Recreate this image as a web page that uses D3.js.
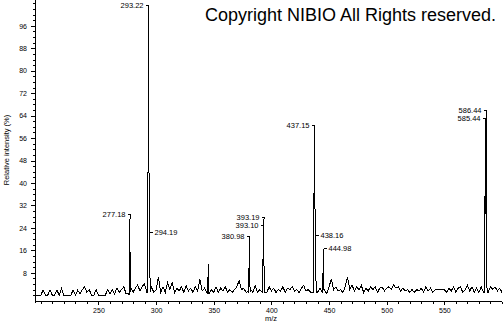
<!DOCTYPE html>
<meta charset="utf-8">
<script src="https://d3js.org/d3.v7.min.js"></script>
<style>
body { margin: 0; background: #fff; }
svg text { font-family: "Liberation Sans", Arial, sans-serif; fill: #000; }
.axis path, .axis line { stroke: #000; shape-rendering: crispEdges; }
</style>
<div id="chart"></div>
<script>
  // baseline noise, read every 2 m/z from 196 to 600 (% intensity)
  var noiseStart = 196, noiseStep = 2;
  var noise = [
    0,0,0,1.8,0,0,1.8,0,0,1.8, 0,2.4,0,0,0,0,1.8,0,1.8,0.5,
    2,3,1,2,0,0,2,0,0,0, 0,2,0.5,2,0.5,2.5,1,2,3,0.5,
    0.5,2.8,1,2.5,3.6,1.5,3.2,4,
    1,2,3,1,2,
    6.4,1,3,1,4.5,2,4.5,1,2.5,1.5,3,1,3.5,1.5,2.5,1,3,1.5,
    5.7,1.5,2.5,1,0.5,2,1,3,1,2.5, 1.5,3,1,2,1,2,3,5.2,2,2.5,
    1,1.5,2,1,3.5,1,2,1,2,1, 3,1.5,2.5,1,2,1.5,3,1,2.5,2,
    3,1.5,2,1,2.5,3.5,1.5,2,1,1, 2,1,2.5,1,2,0.5,3,5.8,2,3,
    1.5,2,1,3,6.4,2,3.5,1.5,3,2, 3.5,1,2.5,1.5,3,2,3,1,2.5,3,
    1.5,2.5,3,2,3.6,2.5,3,1.5,2.5,1.5, 2,1,2,1,2,1.5,2.5,1,3,1.5,
    2.5,1,2,2,2,2,2,1,2.5,1.5, 3,1,2.5,3,1,2,3.5,1.5,3,1,
    2.5,1,3,1,2,1,3,2,3,1.5, 2.5,1
  ];

  // peak profiles [m/z, % intensity]
  var peaks = [
    [[276.6,0],[276.9,13.5],[277.18,27],[277.5,7],[277.9,1]],
    [[292.5,1],[292.85,8],[293.22,100],[293.6,59.5],[294.19,21.5],[294.6,8],[295.1,1]],
    [[344.8,0.5],[345.2,11],[345.6,1]],
    [[380.4,0.8],[380.6,10.5],[380.98,20],[381.4,3],[381.8,1]],
    [[392.4,1],[392.7,12],[393.10,24],[393.19,27],[393.6,10],[394.1,1]],
    [[436.4,1],[436.8,16],[437.15,59],[437.6,38],[438.16,20],[438.6,6],[439.1,1]],
    [[444.6,1],[444.98,16],[445.4,2]],
    [[584.9,1],[585.1,8],[585.44,61],[585.9,29],[586.44,30],[586.8,4],[587.2,1]]
  ];

  // annotations
  var labelMz    = [293.22, 277.18, 294.19, 380.98, 393.10, 393.19, 437.15, 438.16, 444.98, 585.44, 586.44];
  var labelLevel = [103.4, 28.9, 22.4, 21.2, 24.9, 27.9, 60.8, 21.5, 17.0, 63.3, 66.0];
  var labelSide  = ["L", "L", "R", "L", "L", "L", "L", "R", "R", "L", "L"];

  var xMajor = [250, 300, 350, 400, 450, 500, 550];
  var yMajor = [8, 16, 24, 32, 40, 48, 56, 64, 72, 80, 88, 96];

  var width = 504, height = 325;
  var svg = d3.select("#chart").append("svg")
      .attr("width", width).attr("height", height);

  var x = d3.scaleLinear().domain([200, 600]).range([40.8, 502]);
  var y = d3.scaleLinear().domain([0, 105]).range([295.2, 0.6]);

  // combined profile
  var pts = [];
  noise.forEach(function (v, i) {
    var m = noiseStart + i * noiseStep;
    var inside = peaks.some(function (p) { return m >= p[0][0] && m <= p[p.length - 1][0]; });
    if (!inside) pts.push([m, v]);
  });
  peaks.forEach(function (p) { p.forEach(function (d) { pts.push(d); }); });
  pts.sort(function (a, b) { return a[0] - b[0]; });

  var axisY = 301.7, axisX = 35;

  // y axis
  var gy = svg.append("g").attr("class", "axis")
      .attr("transform", "translate(" + axisX + ",0)");
  gy.call(d3.axisLeft(y).tickValues(d3.range(0, 105, 2)).tickSize(2.5).tickFormat("").tickSizeOuter(0));
  gy.select(".domain").remove();
  gy.append("g").call(d3.axisLeft(y).tickValues(yMajor).tickSize(4.5).tickPadding(3.5).tickSizeOuter(0))
    .call(function (g) { g.select(".domain").remove(); })
    .selectAll("text").style("font-size", "7px");
  gy.append("line").attr("x1", 0).attr("x2", 0).attr("y1", 0).attr("y2", axisY + 1);

  // x axis
  var gx = svg.append("g").attr("class", "axis")
      .attr("transform", "translate(0," + axisY + ")");
  gx.call(d3.axisBottom(x).tickValues(d3.range(200, 601, 10)).tickSize(2.5).tickFormat("").tickSizeOuter(0));
  gx.select(".domain").remove();
  gx.append("g").call(d3.axisBottom(x).tickValues(xMajor).tickSize(3.5).tickPadding(3).tickSizeOuter(0))
    .call(function (g) { g.select(".domain").remove(); })
    .selectAll("text").style("font-size", "7px");
  gx.append("line").attr("x1", axisX).attr("x2", x(600)).attr("y1", 0).attr("y2", 0);

  svg.append("text").attr("x", 265).attr("y", 321)
     .style("font-size", "7.5px").text("m/z");
  svg.append("text")
     .attr("transform", "translate(8.5,150) rotate(-90)")
     .attr("text-anchor", "middle").style("font-size", "7.5px")
     .text("Relative intensity (%)");

  // spectrum
  svg.append("path").datum(pts)
     .attr("fill", "none").attr("stroke", "#000").attr("stroke-width", 1)
     .attr("shape-rendering", "crispEdges")
     .attr("d", d3.line().x(function (d) { return x(d[0]); }).y(function (d) { return y(d[1]); }));

  // peak labels with leaders
  var lab = svg.append("g").attr("stroke", "#000").attr("stroke-width", 1)
      .attr("shape-rendering", "crispEdges");
  labelMz.forEach(function (m, i) {
    var top = 0;
    peaks.forEach(function (p) { p.forEach(function (d) { if (d[0] === m) top = d[1]; }); });
    var px = Math.round(x(m)) + 0.5, ly = Math.round(y(labelLevel[i])) + 0.5;
    lab.append("line").attr("x1", px).attr("x2", px).attr("y1", y(top)).attr("y2", ly);
    var dir = labelSide[i] === "L" ? -1 : 1;
    lab.append("line").attr("x1", px).attr("x2", px + dir * 3).attr("y1", ly).attr("y2", ly);
    svg.append("text").attr("x", px + dir * 5).attr("y", ly).attr("dy", "0.35em")
       .attr("text-anchor", dir < 0 ? "end" : "start")
       .style("font-size", "7.5px").text(m.toFixed(2));
  });

  svg.append("text").attr("x", 205).attr("y", 20.5)
     .style("font-size", "18px").text("Copyright NIBIO All Rights reserved.");
</script>
